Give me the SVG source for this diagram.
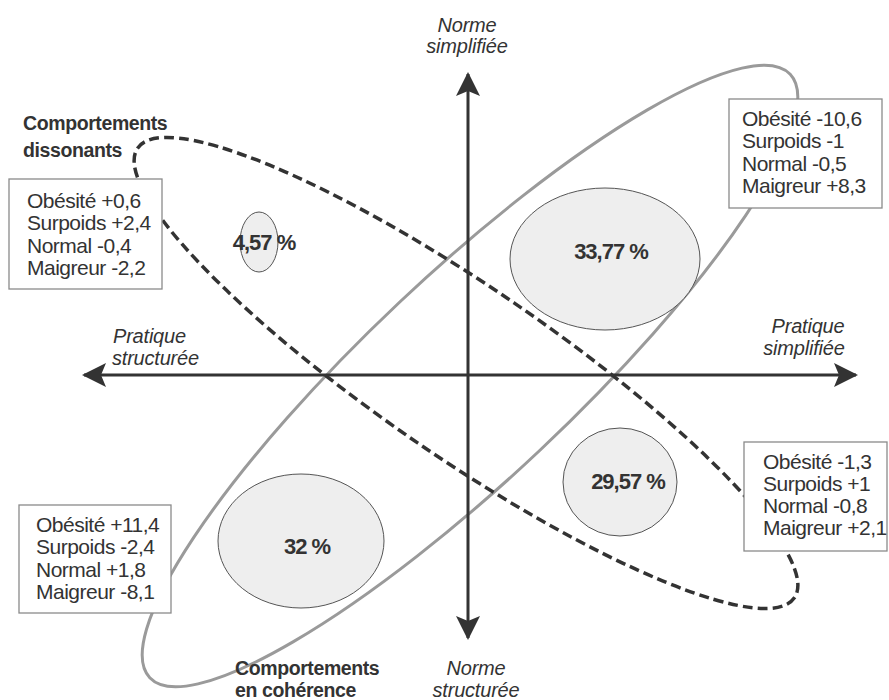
<svg xmlns="http://www.w3.org/2000/svg" width="889" height="700" viewBox="0 0 889 700">
<style>
.big-gray{fill:none;stroke:#9a9a9a;stroke-width:3}
.big-dash{fill:none;stroke:#333;stroke-width:3.5;stroke-dasharray:10 5}
.pct{fill:#eeeeee;stroke:#555;stroke-width:1}
.pcttxt{font-family:"Liberation Sans",Arial,sans-serif;font-weight:bold;font-size:22px;fill:#333;text-anchor:middle;letter-spacing:-1px}
.box{fill:#fff;stroke:#8a8a8a;stroke-width:1.3}
.boxtxt{font-family:"Liberation Sans",Arial,sans-serif;font-size:21px;fill:#333;letter-spacing:-0.5px}
.axis{stroke:#333;stroke-width:3;fill:none}
.axtxt{font-family:"Liberation Sans",Arial,sans-serif;font-style:italic;font-size:20px;fill:#333;letter-spacing:-0.2px}
.grp{font-family:"Liberation Sans",Arial,sans-serif;font-weight:bold;font-size:19.5px;fill:#333;letter-spacing:-0.4px}
</style>
<defs>
<marker id="arr" markerUnits="userSpaceOnUse" viewBox="0 0 24 24" markerWidth="24" markerHeight="24" refX="22" refY="12" orient="auto">
<path d="M0,0 L24,12 L0,24 L5,12 Z" fill="#333"/>
</marker>
</defs>
<rect width="889" height="700" fill="#fff"/>
<g id="ellipse-coherence">
<ellipse class="big-gray" cx="470" cy="376" rx="440" ry="102" transform="rotate(-43.3 470 376)"/>
</g>
<g id="ellipse-dissonants">
<ellipse class="big-dash" cx="466" cy="373" rx="398" ry="85" transform="rotate(34.4 466 373)"/>
</g>
<g id="connectors">
<line class="axis" x1="468" y1="375" x2="468" y2="74" marker-end="url(#arr)"/>
<line class="axis" x1="468" y1="375" x2="468" y2="638" marker-end="url(#arr)"/>
<line class="axis" x1="468" y1="375" x2="84" y2="375" marker-end="url(#arr)"/>
<line class="axis" x1="468" y1="375" x2="856" y2="375" marker-end="url(#arr)"/>
</g>
<g id="axis-labels">
<text class="axtxt" x="467" y="32" text-anchor="middle">Norme</text>
<text class="axtxt" x="467" y="53" text-anchor="middle">simplifiée</text>
<text class="axtxt" x="476" y="675" text-anchor="middle">Norme</text>
<text class="axtxt" x="476" y="697" text-anchor="middle">structurée</text>
<text class="axtxt" x="113" y="343">Pratique</text>
<text class="axtxt" x="112" y="365">structurée</text>
<text class="axtxt" x="808" y="333" text-anchor="middle">Pratique</text>
<text class="axtxt" x="804" y="355" text-anchor="middle">simplifiée</text>
</g>
<g id="pct-457">
<ellipse class="pct" cx="259" cy="242" rx="19" ry="30"/>
<text class="pcttxt" x="264" y="250">4,57 %</text>
</g>
<g id="pct-3377">
<ellipse class="pct" cx="605" cy="259" rx="95" ry="71"/>
<text class="pcttxt" x="611" y="259">33,77 %</text>
</g>
<g id="pct-2957">
<ellipse class="pct" cx="620" cy="482" rx="57" ry="54"/>
<text class="pcttxt" x="628" y="489">29,57 %</text>
</g>
<g id="pct-32">
<ellipse class="pct" cx="301" cy="541" rx="83" ry="67"/>
<text class="pcttxt" x="307" y="554">32 %</text>
</g>
<g id="box-top-left">
<rect class="box" x="9" y="179" width="153" height="110"/>
<text class="boxtxt" x="27" y="208">Obésité +0,6</text>
<text class="boxtxt" x="27" y="230">Surpoids +2,4</text>
<text class="boxtxt" x="27" y="253">Normal -0,4</text>
<text class="boxtxt" x="27" y="275">Maigreur -2,2</text>
</g>
<g id="box-top-right">
<rect class="box" x="729" y="99" width="153" height="109"/>
<text class="boxtxt" x="742" y="126">Obésité -10,6</text>
<text class="boxtxt" x="742" y="148">Surpoids -1</text>
<text class="boxtxt" x="742" y="171">Normal -0,5</text>
<text class="boxtxt" x="742" y="193">Maigreur +8,3</text>
</g>
<g id="box-bottom-right">
<rect class="box" x="744" y="442" width="143" height="109"/>
<text class="boxtxt" x="763" y="469">Obésité -1,3</text>
<text class="boxtxt" x="763" y="491">Surpoids +1</text>
<text class="boxtxt" x="763" y="513">Normal -0,8</text>
<text class="boxtxt" x="763" y="535">Maigreur +2,1</text>
</g>
<g id="box-bottom-left">
<rect class="box" x="19" y="505" width="152" height="108"/>
<text class="boxtxt" x="36" y="532">Obésité +11,4</text>
<text class="boxtxt" x="36" y="554">Surpoids -2,4</text>
<text class="boxtxt" x="36" y="577">Normal +1,8</text>
<text class="boxtxt" x="36" y="599">Maigreur -8,1</text>
</g>
<g id="label-dissonants">
<text class="grp" x="23" y="130">Comportements</text>
<text class="grp" x="23" y="157">dissonants</text>
</g>
<g id="label-coherence">
<text class="grp" x="235" y="675">Comportements</text>
<text class="grp" x="235" y="697">en cohérence</text>
</g>
</svg>
